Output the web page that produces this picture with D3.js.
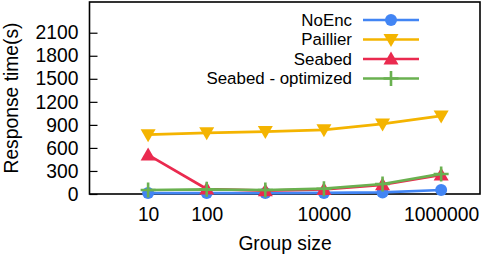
<!DOCTYPE html>
<html><head><meta charset="utf-8">
<script src="https://cdn.jsdelivr.net/npm/d3@7"></script>
<style>
html,body{margin:0;padding:0;background:#fff;}
svg{display:block;font-family:"Liberation Sans",Arial,sans-serif;}
</style></head>
<body>
<svg id="c" width="488" height="254"></svg>
<script>
const groupSizes = [10, 100, 1000, 10000, 100000, 1000000];
const noEnc = [12, 12, 12, 14, 20, 52];
const paillier = [773, 796, 813, 835, 913, 1017];
const seabed = [509, 65, 43, 59, 120, 248];
const seabedOpt = [52, 61, 52, 69, 130, 261];
const xTicks = [10, 100, 10000, 1000000];
const yTicks = [0, 300, 600, 900, 1200, 1500, 1800, 2100];
const seriesNames = ["NoEnc", "Paillier", "Seabed", "Seabed - optimized"];
const seriesColors = ["#4285f4", "#f4b400", "#ea2a4f", "#6ab150"];
const seriesMarkers = ["circle", "tridown", "triup", "plus"];

const svg = d3.select("#c");
const L = 89.5, R = 480, T = 2, B = 194;
const x = d3.scaleLog().domain([1, 4.6e6]).range([L, R]);
const y = d3.scaleLinear().domain([0, 2500]).range([B, T]);
const FS = 19.3;

const yAxis = d3.axisLeft(y).tickValues(yTicks).tickSize(-8).tickPadding(11).tickFormat(d3.format("d"));
const gy = svg.append("g").attr("transform", `translate(${L},0)`).call(yAxis);
gy.select(".domain").remove();
gy.selectAll("line").attr("stroke", "#000").attr("stroke-width", 1.2);
gy.selectAll("text").attr("font-size", FS).attr("fill", "#000").attr("font-family", "Liberation Sans, Arial, sans-serif");

const xAxis = d3.axisBottom(x).tickValues(xTicks).tickSize(0).tickPadding(13).tickFormat(d3.format("d"));
const gx = svg.append("g").attr("transform", `translate(0,${B})`).call(xAxis);
gx.select(".domain").remove();
gx.selectAll("text").attr("font-size", FS).attr("fill", "#000").attr("font-family", "Liberation Sans, Arial, sans-serif");

svg.append("rect").attr("x", L).attr("y", T).attr("width", R - L).attr("height", B - T)
  .attr("fill", "none").attr("stroke", "#000").attr("stroke-width", 1.6);

svg.append("text").attr("x", 285).attr("y", 250).attr("text-anchor", "middle")
  .attr("font-size", FS).text("Group size");
svg.append("text").attr("transform", "translate(17.5,98) rotate(-90)").attr("text-anchor", "middle")
  .attr("font-size", FS).text("Response time(s)");

function marker(g, type, color, cx, cy) {
  if (type === "circle") {
    g.append("circle").attr("cx", cx).attr("cy", cy).attr("r", 6).attr("fill", color);
  } else if (type === "tridown") {
    g.append("path").attr("d", `M${cx-7.5},${cy-5.5} L${cx+7.5},${cy-5.5} L${cx},${cy+7.5} Z`).attr("fill", color);
  } else if (type === "triup") {
    g.append("path").attr("d", `M${cx-7.5},${cy+5.5} L${cx+7.5},${cy+5.5} L${cx},${cy-7.5} Z`).attr("fill", color);
  } else {
    g.append("path").attr("d", `M${cx-7.5},${cy} L${cx+7.5},${cy} M${cx},${cy-7.5} L${cx},${cy+7.5}`)
      .attr("stroke", color).attr("stroke-width", 2.6);
  }
}

const data = [noEnc, paillier, seabed, seabedOpt];
const line = d3.line().x((d, i) => x(groupSizes[i])).y(d => y(d));
const plot = svg.append("g");
data.forEach((vals, s) => {
  plot.append("path").datum(vals).attr("d", line).attr("fill", "none")
    .attr("stroke", seriesColors[s]).attr("stroke-width", 2.7).attr("stroke-linejoin", "round");
  vals.forEach((v, i) => marker(plot, seriesMarkers[s], seriesColors[s], x(groupSizes[i]), y(v)));
});

const legY = [20, 39.5, 59, 78.5];
seriesNames.forEach((n, s) => {
  const g = svg.append("g");
  g.append("text").attr("x", 352).attr("y", legY[s]).attr("dy", "0.35em").attr("text-anchor", "end")
    .attr("font-size", 16.9).text(n);
  g.append("line").attr("x1", 363).attr("x2", 419).attr("y1", legY[s]).attr("y2", legY[s])
    .attr("stroke", seriesColors[s]).attr("stroke-width", 2.7);
  marker(g, seriesMarkers[s], seriesColors[s], 391, legY[s]);
});
</script>
</body></html>
